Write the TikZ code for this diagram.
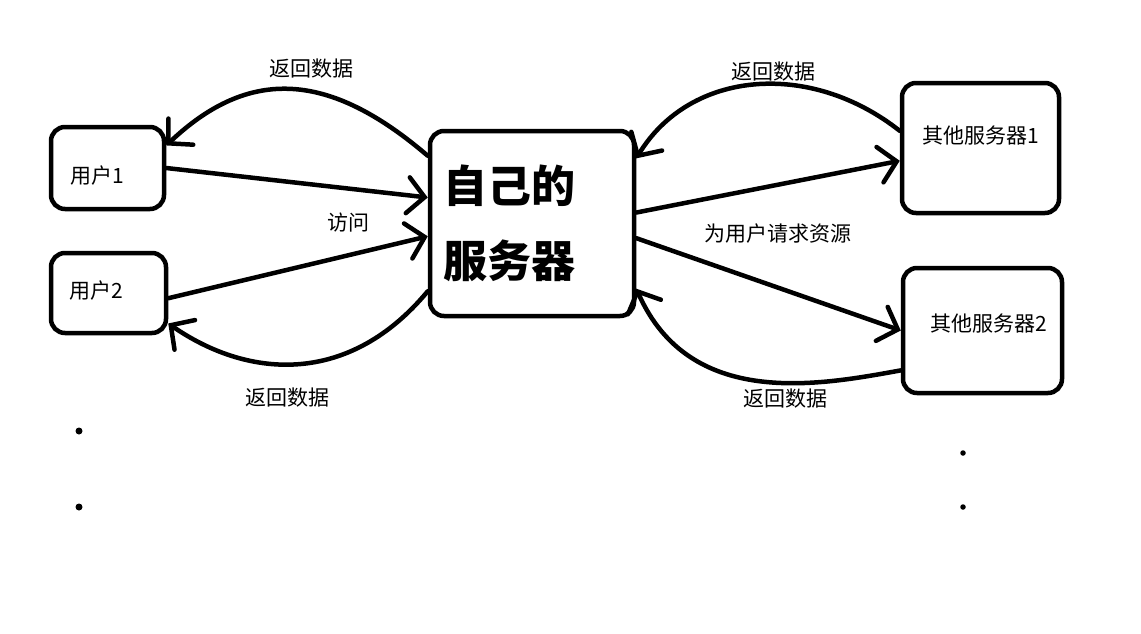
\documentclass[tikz,border=0pt]{standalone}
\usepackage{fontspec}
\setmainfont{Noto Sans CJK SC}
\usetikzlibrary{arrows.meta, positioning}

\begin{document}
\begin{tikzpicture}[x=1pt, y=-1pt,
  every node/.style={inner sep=0pt},
  box/.style={draw, line width=4.5pt, rounded corners=14pt},
  txt/.style={font=\fontsize{21}{24}\selectfont},
  big/.style={font=\fontsize{44}{75}\selectfont\bfseries, align=left},
  link/.style={line width=4.5pt, line cap=round,
               -{Straight Barb[length=17pt, width=36pt, line cap=round]}},
  dot/.style={circle, fill}]
\useasboundingbox (0,0) rectangle (1141,633);

% boxes
\node[box, minimum width=113pt, minimum height=82pt] (u1) at (107.5,168) {};
\node[box, minimum width=115pt, minimum height=80pt] (u2) at (108.5,293) {};
\node[box, big, minimum width=204pt, minimum height=185pt,
      inner xsep=13pt, text width=178pt] (self) at (532,223.5) {自己的\\服务器};
\node[box, minimum width=157pt, minimum height=130pt] (s1) at (980.5,148) {};
\node[box, minimum width=159pt, minimum height=125pt] (s2) at (982.5,330.5) {};

\node[txt] (u1t) at (97,176) {用户1};
\node[txt] (u2t) at (96,291) {用户2};
\node[txt] (s1t) at (981,136) {其他服务器1};
\node[txt] (s2t) at (989,324) {其他服务器2};

% user side
\draw[link] (u1.0) -- (self.166);
\draw[link] (u2.355) -- (self.187);
\draw[link] (self.147) .. controls (330,72) and (250,66) .. (u1.21);
\draw[link] (self.213.5) .. controls (350,385) and (250,380) .. (u2.333);
\node[txt] (back1) at (311,69) {返回数据};
\node[txt] (visit) at (348,223) {访问};
\node[txt] (back2) at (287,398) {返回数据};

% server side
\draw[link] (self.6) -- (s1.189);
\draw[link] (self.352) -- (s2.180);
\draw[link] (s1.168) .. controls (810,60) and (690,70) .. (self.32);
\draw[link] (s2.206) .. controls (820,385) and (690,410) .. (self.328);
\node[txt] (back3) at (773,72) {返回数据};
\node[txt] (ask) at (778,234) {为用户请求资源};
\node[txt] (back4) at (785,399) {返回数据};

% more
\node[dot, minimum size=7pt] (d1) at (79,431) {};
\node[dot, minimum size=7pt] (d2) at (79,507) {};
\node[dot, minimum size=5.5pt] (d3) at (963,453) {};
\node[dot, minimum size=5.5pt] (d4) at (963,507) {};
\end{tikzpicture}
\end{document}
